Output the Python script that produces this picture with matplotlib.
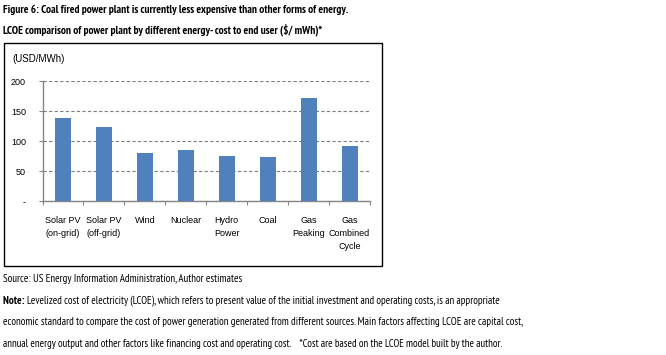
import matplotlib
matplotlib.use("Agg")
import matplotlib.pyplot as plt
from matplotlib.patches import Rectangle

categories = ["Solar PV\n(on-grid)", "Solar PV\n(off-grid)", "Wind", "Nuclear",
              "Hydro\nPower", "Coal", "Gas\nPeaking", "Gas\nCombined\nCycle"]
values = [139, 124, 81, 85.5, 76, 74, 172.5, 92]
yticks = [0, 50, 100, 150, 200]
ytick_labels = ["-", "50", "100", "150", "200"]

FONT = ["Liberation Sans", "DejaVu Sans"]
BFONT = ["PT Sans Narrow", "Liberation Sans", "DejaVu Sans"]
NFONT = ["PT Sans Narrow", "Liberation Sans", "DejaVu Sans"]
plt.rcParams['font.family'] = FONT

W, H = 666, 355
fig = plt.figure(figsize=(W / 100, H / 100), dpi=100)
fig.patch.set_facecolor("white")

def px(x, y):
    return x / W, 1 - y / H

def fit_text(x0, y, s, right, size, family=NFONT, **kw):
    t = fig.text(*px(x0, y), s, fontsize=size, va="center", ha="left", family=family, **kw)
    fig.canvas.draw()
    bb = t.get_window_extent()
    t.set_fontsize(size * (right - x0) / bb.width)
    return t

# chart frame box
fig.patches.append(Rectangle(px(3.5, 266), 378 / W, 223 / H, transform=fig.transFigure,
                             fill=False, edgecolor="black", linewidth=1.0))

l, t = px(42.5, 81.3)
r, b = px(370, 201.3)
ax = fig.add_axes([l, b, r - l, t - b])
x = list(range(len(categories)))
ax.bar(x, values, width=0.39, color="#4F81BD", zorder=3)
ax.set_xlim(-0.5, len(categories) - 0.5)
ax.set_ylim(0, 200)
ax.set_yticks(yticks)
ax.set_yticklabels(ytick_labels, fontsize=6.5)
ax.yaxis.grid(True, linestyle=(0, (3, 2)), color="#7f7f7f", linewidth=0.8, zorder=0)
ax.set_xticks([i + 0.5 for i in range(-1, len(categories))])
ax.set_xticklabels([])
ax.tick_params(axis="x", length=3, color="#868686", direction="out")
ax.tick_params(axis="y", length=3, color="#868686", direction="out", pad=9)
for s in ["top", "right"]:
    ax.spines[s].set_visible(False)
for s in ["left", "bottom"]:
    ax.spines[s].set_color("#868686")
    ax.spines[s].set_linewidth(1.0)
for i, c in enumerate(categories):
    ax.text(i, -0.12, c, transform=ax.get_xaxis_transform(), ha="center", va="top",
            fontsize=6.5, linespacing=1.6)

fig.text(*px(12, 59), "(USD/MWh)", fontsize=7, va="center", ha="left")

fit_text(3, 10, "Figure 6: Coal fired power plant is currently less expensive than other forms of energy.",
         350, 9, family=BFONT, fontweight="bold")
fit_text(3, 30, "LCOE comparison of power plant by different energy- cost to end user ($/ mWh)*",
         325, 9, family=BFONT, fontweight="bold")
fit_text(3, 279, "Source: US Energy Information Administration, Author estimates", 242, 8)

note_lines = [
    "Levelized cost of electricity (LCOE), which refers to present value of the initial investment and operating costs, is an appropriate",
    "economic standard to compare the cost of power generation generated from different sources. Main factors affecting LCOE are capital cost,",
    "annual energy output and other factors like financing cost and operating cost.    *Cost are based on the LCOE model built by the author.",
]
l2 = fit_text(3, 322, note_lines[1], 522, 8)
body = l2.get_fontsize()
tN = fig.text(*px(3, 300.7), "Note: ", fontsize=body, fontweight="bold", va="center", ha="left",
              family=BFONT)
fig.canvas.draw()
bb = tN.get_window_extent()
fit_text(bb.x1, 300.7, note_lines[0], 500, body)
fit_text(3, 343.5, note_lines[2], 505, body)

fig.savefig("out.png", dpi=100)
